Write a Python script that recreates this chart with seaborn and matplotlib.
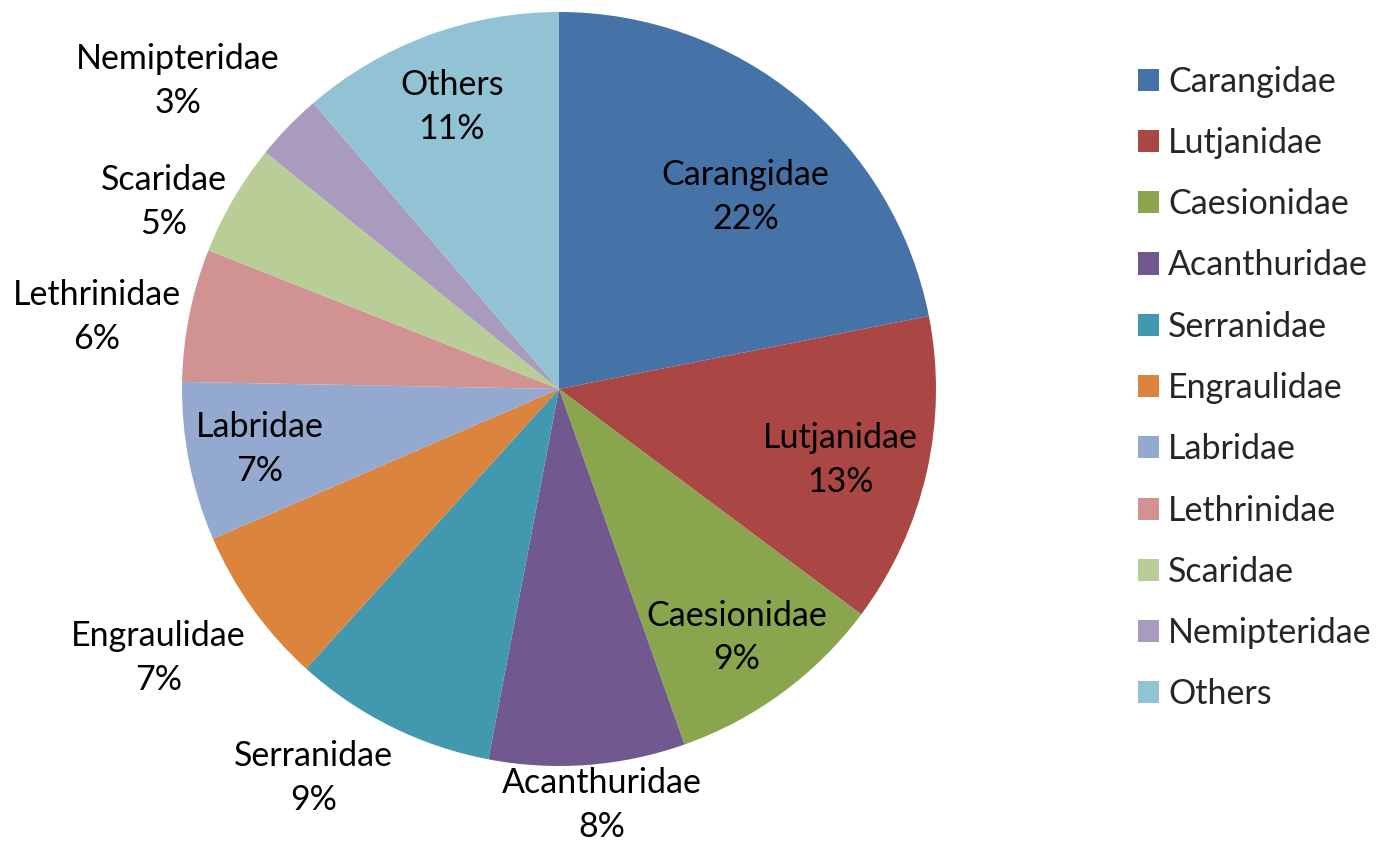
import numpy as np
import matplotlib
matplotlib.use("Agg")
import matplotlib.pyplot as plt
import seaborn as sns

# Data
families = ["Carangidae", "Lutjanidae", "Caesionidae", "Acanthuridae", "Serranidae",
            "Engraulidae", "Labridae", "Lethrinidae", "Scaridae", "Nemipteridae", "Others"]
shares = [21.9, 13.3, 9.4, 8.4, 8.7, 6.8, 6.8, 5.7, 4.8, 2.9, 11.3]
pct_labels = ["22%", "13%", "9%", "8%", "9%", "7%", "7%", "6%", "5%", "3%", "11%"]
colors = ["#4572A7", "#AA4643", "#89A54E", "#71588F", "#4198AF", "#DB843D",
          "#93A9CF", "#D19392", "#B9CD96", "#A99BBD", "#92C3D5"]

# Layout: data-label placement relative to each wedge (radius fraction, angle offset in degrees)
label_radius = [0.71, 0.77, 0.81, 1.11, 1.22, 1.28, 0.81, 1.24, 1.16, 1.30, 0.80]
label_dangle = [-4.8, -1.4, -0.8, 1.5, -5.8, -1.8, 0.2, 2.5, 4.9, 5.2, 0.5]

sns.set_theme(style="white")
plt.rcParams["font.family"] = ["Lato", "DejaVu Sans"]

fig = plt.figure(figsize=(13.81, 8.42), dpi=100)
cx, cy = 559 / 1381, 1 - 389 / 842
rw, rh = 377 / 1381, 377 / 842
ax = fig.add_axes([cx - rw, cy - rh, 2 * rw, 2 * rh])

wedges, _ = ax.pie(shares, colors=colors, startangle=90, counterclock=False,
                   radius=1.0, wedgeprops=dict(linewidth=0))
ax.set_xlim(-1, 1)
ax.set_ylim(-1, 1)
ax.set_aspect("equal")
ax.axis("off")

FS = 24.5
for w, name, pct, r, da in zip(wedges, families, pct_labels, label_radius, label_dangle):
    ang = np.deg2rad((w.theta1 + w.theta2) / 2 + da)
    x, y = r * np.cos(ang), r * np.sin(ang)
    ax.text(x, y, f"{name}\n{pct}", ha="center", va="center", fontsize=FS,
            color="black", linespacing=1.45)

leg = fig.legend(wedges, families, loc="center left",
                 bbox_to_anchor=(1138 / 1381, 1 - 388 / 842),
                 frameon=False, fontsize=FS, handlelength=0.62, handleheight=0.62,
                 handletextpad=0.27, labelspacing=0.86, borderaxespad=0, borderpad=0)

fig.savefig("out.png", dpi=100, facecolor="white")
